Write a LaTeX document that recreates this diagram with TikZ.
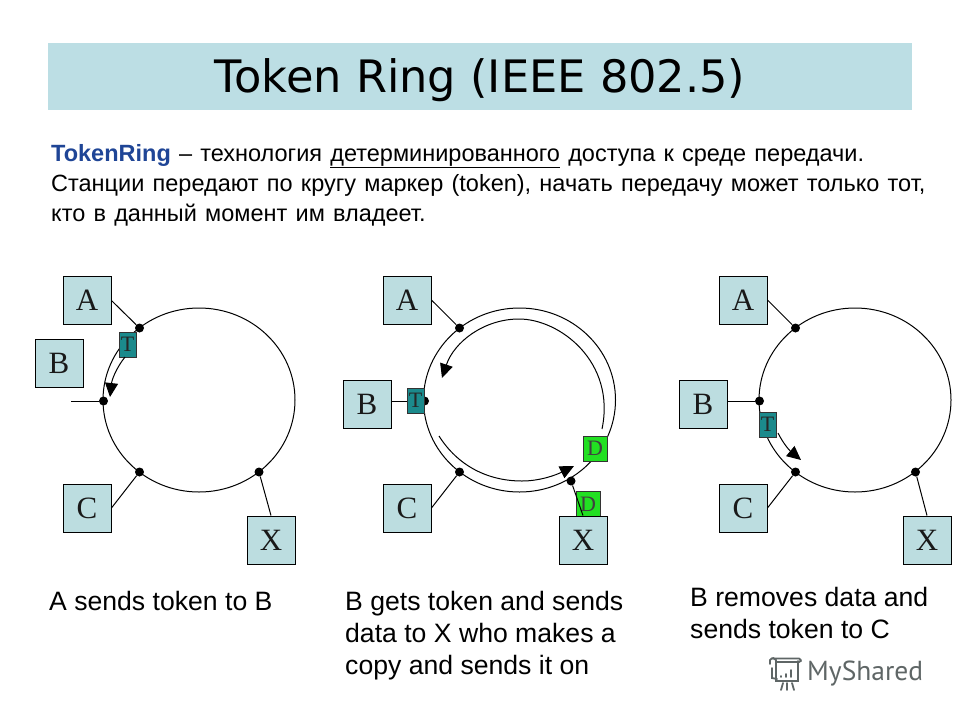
\documentclass[tikz,border=0pt]{standalone}
\usepackage{fontspec}
\setmainfont{Liberation Sans}
\newfontfamily\bodyfont[WordSpace=1.26]{Liberation Sans}
\newfontfamily\titlefont{DejaVu Sans}
\newfontfamily\seriffont{Liberation Serif}
\newfontfamily\markfont{PT Sans}
\usetikzlibrary{arrows.meta}
\definecolor{barblue}{HTML}{BCDEE4}
\definecolor{boxblue}{HTML}{BCDDE0}
\definecolor{tealbox}{HTML}{1B8A8C}
\definecolor{greenbox}{HTML}{22E022}
\definecolor{headblue}{HTML}{1F4596}
\definecolor{markgrey}{HTML}{5F6666}
\tikzset{
  x=1pt,y=-1pt,
  station/.style={draw=black,line width=0.9pt,fill=boxblue,minimum width=48pt,minimum height=48pt,inner sep=0pt,font=\seriffont\fontsize{31}{31}\selectfont,text=black!90},
  token/.style={draw=black!80,line width=0.7pt,fill=tealbox,minimum width=17pt,minimum height=25pt,inner sep=0pt,font=\seriffont\fontsize{22}{22}\selectfont,text=black!85},
  datab/.style={draw=black!80,line width=0.7pt,fill=greenbox,minimum width=24pt,minimum height=25pt,inner sep=0pt,font=\seriffont\fontsize{22}{22}\selectfont,text=black!75},
  tapdot/.style={circle,fill=black,minimum size=9pt,inner sep=0pt},
  ring/.style={line width=1pt,black},
  wire/.style={line width=1pt,black},
  flow/.style={line width=1pt,black,-{Triangle[length=14pt,width=13pt]}},
  caption/.style={anchor=north west,align=left,inner sep=0pt,font=\fontsize{26.6}{32}\selectfont,text=black},
  bodytext/.style={anchor=north west,align=left,inner sep=0pt,font=\bodyfont\fontsize{23.5}{30}\selectfont,text=black},
}
\begin{document}
\begin{tikzpicture}
\useasboundingbox (0,0) rectangle (960,720);
\fill[white] (0,0) rectangle (960,720);
\node[fill=barblue,minimum width=864pt,minimum height=67pt,inner sep=0pt,anchor=north west] (bar) at (48,43) {};
\node[font=\titlefont\fontsize{44.7}{45}\selectfont,text=black,draw=none] (title) at (480,80) {Token Ring (IEEE 802.5)};
\node[bodytext] (body) at (51,144) {\textcolor{headblue}{\textbf{TokenRing}} – технология \underline{детерминированного} доступа к среде передачи.\\Станции передают по кругу маркер (token), начать передачу может только тот,\\кто в данный момент им владеет.};
% panel 1
\draw[ring] (199,400) ellipse [x radius=96,y radius=92];
\node[station] (a1) at (87,300.5) {A};
\node[station] (b1) at (59,363) {B};
\node[station] (c1) at (87,508) {C};
\node[station] (x1) at (271,540) {X};
\node[tapdot] (da1) at (139.5,328) {};
\node[tapdot] (db1) at (103.5,401) {};
\node[tapdot] (dc1) at (139.5,472) {};
\node[tapdot] (dx1) at (259,472) {};
\coordinate (bfree) at (71,401);
\draw[wire] (a1.east) -- (da1);
\draw[wire] (bfree) -- (db1);
\draw[wire] (c1.east) -- (dc1);
\draw[wire] (x1.north) -- (dx1);
\node[token] (t1) at (127.5,344.5) {T};
\coordinate (f1s) at (125,357);
\coordinate (f1) at (110,397);
\draw[flow] (f1s) .. controls (117,367) and (112,379) .. (f1);
% panel 2
\draw[ring] (519.5,400) ellipse [x radius=96,y radius=92];
\coordinate (up0) at (602,429);
\coordinate (up1) at (442,378);
\coordinate (lo0) at (439,436);
\coordinate (lo1) at (574,466);
\draw[flow] (up0) .. controls (616,362) and (560,319) .. (519,319) .. controls (484,319) and (454,342) .. (up1);
\draw[flow] (lo0) .. controls (458,466) and (488,481) .. (522,481) .. controls (540,481) and (556,475) .. (lo1);
\node[station] (a2) at (407,300) {A};
\node[station] (b2) at (367,404) {B};
\node[station] (c2) at (407,508) {C};
\node[datab] (d2b) at (588,504) {D};
\node[station] (x2) at (583,540) {X};
\node[tapdot] (da2) at (459.5,328) {};
\node[tapdot] (db2) at (424.5,401) {};
\node[tapdot] (dc2) at (459.5,472) {};
\node[tapdot] (dx2) at (571,481) {};
\draw[wire] (a2.east) -- (da2);
\draw[wire] (b2.east |- db2) -- (db2);
\draw[wire] (c2.east) -- (dc2);
\draw[wire] (x2.north) -- (dx2);
\node[token] (t2) at (415.5,400.5) {T};
\node[datab] (d2a) at (595,448.5) {D};
% panel 3
\draw[ring] (855,400) ellipse [x radius=96,y radius=92];
\node[station] (a3) at (743,300) {A};
\node[station] (b3) at (703,404) {B};
\node[station] (c3) at (743,508) {C};
\node[station] (x3) at (927,540) {X};
\node[tapdot] (da3) at (795.5,328) {};
\node[tapdot] (db3) at (759.5,401) {};
\node[tapdot] (dc3) at (795.5,472) {};
\node[tapdot] (dx3) at (915.5,472) {};
\draw[wire] (a3.east) -- (da3);
\draw[wire] (b3.east |- db3) -- (db3);
\draw[wire] (c3.east) -- (dc3);
\draw[wire] (x3.north) -- (dx3);
\node[token] (t3) at (767.5,424.5) {T};
\coordinate (f3s) at (778,433);
\coordinate (f3e) at (801,460);
\draw[flow] (f3s) .. controls (783,443) and (789,450) .. (f3e);
% captions
\node[caption] (cap1) at (49,591) {A sends token to B};
\node[caption] (cap2) at (345,591) {B gets token and sends\\data to X who makes a\\copy and sends it on};
\node[caption] (cap3) at (690,587) {B removes data and\\sends token to C};
% watermark
\begin{scope}[draw=markgrey,line width=1.8pt,line cap=round]
\draw (772,668) -- (772,678) -- (777,679);
\draw (770,660) .. controls (772,657) and (775,658) .. (776,660) -- (776,681) -- (798,681) -- (798,661);
\draw (770,660) -- (770,664) (772,658.5) -- (799,658.5) .. controls (802,660) and (801,662) .. (799,662) -- (776,662);
\draw (781,690) -- (783,683) (787,690) -- (787,683) (794,690) -- (792,683);
\draw (781,677) -- (781,676) (786,677) -- (786,674) (791,677) -- (791,670);
\end{scope}
\node[anchor=west,inner sep=0pt,font=\markfont\fontsize{27.5}{28}\selectfont,text=markgrey] (mark) at (807,674) {MyShared};
\end{tikzpicture}
\end{document}
